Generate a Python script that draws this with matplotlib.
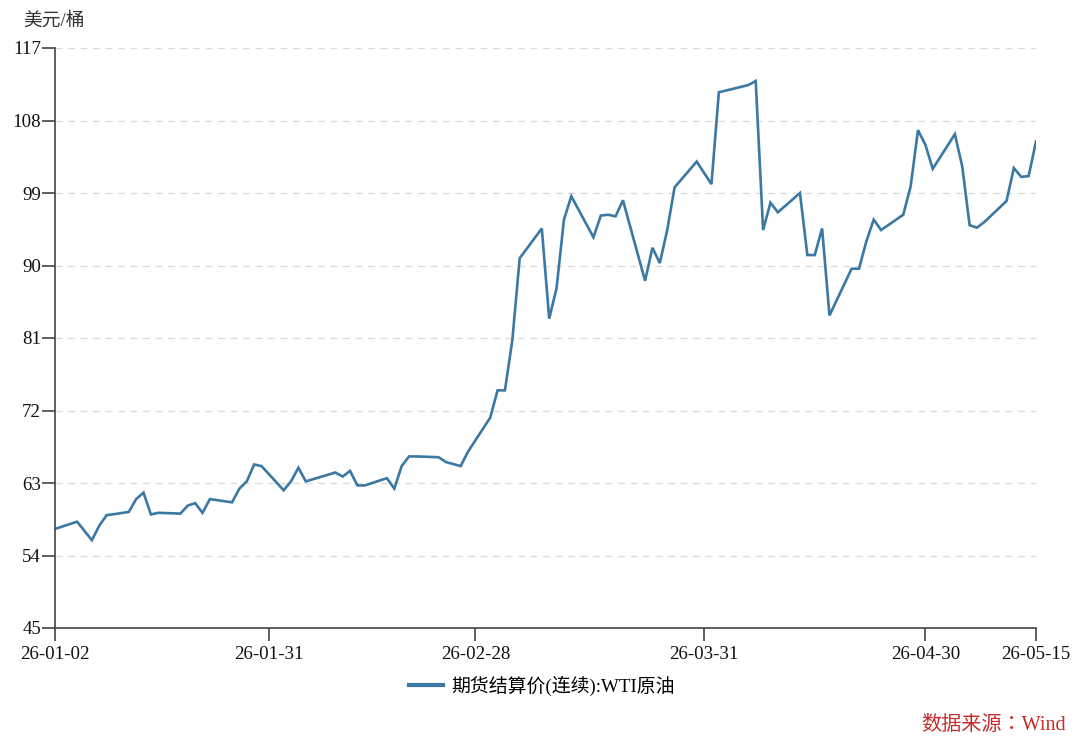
import matplotlib
matplotlib.use("Agg")
import matplotlib.pyplot as plt
import pandas as pd

dates = ["2026-01-02", "2026-01-05", "2026-01-07", "2026-01-08", "2026-01-09",
         "2026-01-12", "2026-01-13", "2026-01-14", "2026-01-15", "2026-01-16",
         "2026-01-19", "2026-01-20", "2026-01-21", "2026-01-22", "2026-01-23",
         "2026-01-26", "2026-01-27", "2026-01-28", "2026-01-29", "2026-01-30",
         "2026-02-02", "2026-02-03", "2026-02-04", "2026-02-05", "2026-02-09",
         "2026-02-10", "2026-02-11", "2026-02-12", "2026-02-13", "2026-02-16",
         "2026-02-17", "2026-02-18", "2026-02-19", "2026-02-20", "2026-02-23",
         "2026-02-24", "2026-02-26", "2026-02-27", "2026-03-02", "2026-03-03",
         "2026-03-04", "2026-03-05", "2026-03-06", "2026-03-09", "2026-03-10",
         "2026-03-11", "2026-03-12", "2026-03-13", "2026-03-16", "2026-03-17",
         "2026-03-18", "2026-03-19", "2026-03-20", "2026-03-23", "2026-03-24",
         "2026-03-25", "2026-03-26", "2026-03-27", "2026-03-30", "2026-04-01",
         "2026-04-02", "2026-04-06", "2026-04-07", "2026-04-08", "2026-04-09",
         "2026-04-10", "2026-04-13", "2026-04-14", "2026-04-15", "2026-04-16",
         "2026-04-17", "2026-04-20", "2026-04-21", "2026-04-22", "2026-04-23",
         "2026-04-24", "2026-04-27", "2026-04-28", "2026-04-29", "2026-04-30",
         "2026-05-01", "2026-05-04", "2026-05-05", "2026-05-06", "2026-05-07",
         "2026-05-08", "2026-05-11", "2026-05-12", "2026-05-13", "2026-05-14",
         "2026-05-15"]

wti = [57.3, 58.2, 55.9, 57.7, 59.0,
       59.4, 61.0, 61.8, 59.1, 59.3,
       59.2, 60.2, 60.5, 59.3, 61.0,
       60.6, 62.3, 63.2, 65.3, 65.1,
       62.1, 63.2, 64.9, 63.2, 64.3,
       63.8, 64.5, 62.7, 62.7, 63.6,
       62.3, 65.1, 66.3, 66.3, 66.2,
       65.6, 65.1, 66.9, 71.1, 74.5,
       74.5, 80.7, 90.9, 94.6, 83.4,
       87.2, 95.7, 98.6, 93.5, 96.2,
       96.3, 96.1, 98.1, 88.1, 92.2,
       90.3, 94.4, 99.7, 102.9, 100.1,
       111.5, 112.4, 112.9, 94.4, 97.8,
       96.6, 99.0, 91.3, 91.3, 94.6,
       83.8, 89.6, 89.6, 93.0, 95.7,
       94.4, 96.3, 99.8, 106.8, 105.0,
       102.0, 106.3, 102.3, 95.0, 94.7,
       95.4, 98.0, 102.1, 101.0, 101.1,
       105.4]

y_ticks = [45, 54, 63, 72, 81, 90, 99, 108, 117]
x_tick_dates = ["2026-01-02", "2026-01-31", "2026-02-28", "2026-03-31", "2026-04-30", "2026-05-15"]
x_tick_labels = ["26-01-02", "26-01-31", "26-02-28", "26-03-31", "26-04-30", "26-05-15"]
series_name = "期货结算价(连续):WTI原油"
unit_label = "美元/桶"
source_label = "数据来源：Wind"

FAM = ["Liberation Serif", "Noto Sans CJK SC", "DejaVu Sans"]
FAM_TC = ["Liberation Serif", "Noto Sans CJK TC", "DejaVu Sans"]
plt.rcParams["font.family"] = FAM

x = pd.to_datetime(dates)

fig = plt.figure(figsize=(10.8, 7.46), dpi=100)
ax = fig.add_axes([55 / 1080, 1 - 628 / 746, (1036 - 55) / 1080, (628 - 48) / 746])

line_color = "#3b78a3"
ax.plot(x, wti, color=line_color, lw=1.9, solid_joinstyle="miter", label=series_name)

ax.set_xlim(pd.Timestamp("2026-01-02"), pd.Timestamp("2026-05-15"))
ax.set_ylim(45, 117)
ax.set_yticks(y_ticks)
ax.set_yticklabels([str(v) for v in y_ticks])
ax.set_xticks(pd.to_datetime(x_tick_dates))
ax.set_xticklabels(x_tick_labels)

for v in y_ticks[1:]:
    ax.axhline(v, color="#dcdcdc", lw=1.0, ls=(0, (5, 4)), zorder=0)

for side in ["top", "right"]:
    ax.spines[side].set_visible(False)
for side in ["left", "bottom"]:
    ax.spines[side].set_color("#444444")
    ax.spines[side].set_linewidth(1.2)

ax.tick_params(axis="both", direction="out", length=9.5, width=1.2, color="#444444",
               labelsize=13.6, labelcolor="#111111")
ax.tick_params(axis="x", pad=3.5)
ax.tick_params(axis="y", pad=0.5)

fig.text(23 / 1080, 1 - 21 / 746, unit_label, fontsize=13.5, color="#333333",
         ha="left", va="center", family=FAM)

leg = fig.legend(loc="center", bbox_to_anchor=(542 / 1080, 1 - 686 / 746), frameon=False,
                 fontsize=13.6, handlelength=1.8, handletextpad=0.45)
for h in leg.get_lines():
    h.set_linewidth(3)

fig.text(1066 / 1080, 1 - 725 / 746, source_label, fontsize=14.5, color="#c62a2a",
         ha="right", va="center", family=FAM_TC)

fig.savefig("out.png", dpi=100)
